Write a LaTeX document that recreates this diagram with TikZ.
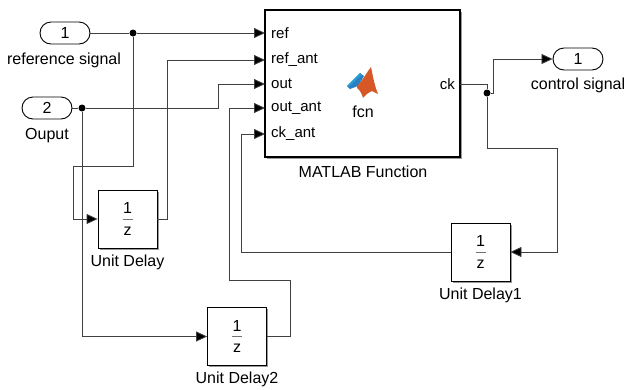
\documentclass[tikz,border=0pt]{standalone}
\usepackage{fontspec}
\setmainfont{Liberation Sans}
\usetikzlibrary{arrows.meta,shadows}
\definecolor{mlorange}{RGB}{214,88,38}
\definecolor{mlblue}{RGB}{40,128,196}
\tikzset{
 wire/.style={draw=black!75, line width=0.8pt},
 sig/.style={wire, -{Triangle[length=11pt,width=10pt,fill=black]}},
 port/.style={draw=black, line width=0.9pt, fill=white, rounded corners=11pt, minimum width=50pt, minimum height=22pt, inner sep=0pt, font=\fontsize{16}{18}\selectfont},
 blk/.style={draw=black, line width=0.8pt, fill=white, drop shadow={shadow xshift=1.6pt, shadow yshift=-1.6pt, fill=black!40, opacity=1}, inner sep=0pt},
 lbl/.style={font=\fontsize{16}{18}\selectfont, inner sep=0pt},
 plbl/.style={font=\fontsize{15}{17}\selectfont, inner sep=0pt},
 junc/.style={circle, fill=black, inner sep=0pt, minimum size=7pt},
}
\newcommand\unitdelay[4]{%
 \node[blk, minimum width=59pt, minimum height=58pt] (#1) at (#2,#3) {};
 \node[lbl] (#1one) at (#2,{#3-11}) {1};
 \coordinate (#1bl) at ({#2-5},#3);
 \coordinate (#1br) at ({#2+5},#3);
 \draw[black!55, line width=0.7pt] (#1bl) -- (#1br);
 \node[lbl] (#1z) at (#2,{#3+12}) {z};
 \node[lbl] (#1lab) at (#2,{#3+43}) {#4};
}
\begin{document}
\begin{tikzpicture}[x=1pt,y=-1pt]
\useasboundingbox[fill=white] (0,0) rectangle (625,389);

% MATLAB Function block
\node[blk, line width=2pt, minimum width=195pt, minimum height=147pt] (mf) at (362.5,83.5) {};
\node[plbl, anchor=west] (lref) at (271,33) {ref};
\node[plbl, anchor=west] (lrefant) at (271,60) {ref\_ant};
\node[plbl, anchor=west] (lout) at (271,84) {out};
\node[plbl, anchor=west] (loutant) at (271,108) {out\_ant};
\node[plbl, anchor=west] (lckant) at (271,134) {ck\_ant};
\node[plbl, anchor=east] (lck) at (455,84) {ck};
\node[lbl] (fcn) at (363,112) {fcn};
\node[lbl] (mflab) at (363,172) {MATLAB Function};
% logo
\fill[mlblue] (347,86) -- (360,73) -- (364,76) -- (358,86) -- (350,89) -- cycle;
\fill[cyan!60!mlblue] (347,86) -- (360,73) -- (362,74.5) -- (349,86.5) -- cycle;
\fill[mlorange] (357,86) .. controls (363,80) and (367,72) .. (371,67)
  .. controls (373,77) and (375,87) .. (378,94)
  -- (372,91) .. controls (368,93) and (365,95) .. (363,98)
  .. controls (362,94) and (360,90) .. (357,88) -- cycle;

\coordinate (pref) at (265,33);
\coordinate (prefant) at (265,60);
\coordinate (pout) at (265,84);
\coordinate (poutant) at (265,108);
\coordinate (pckant) at (265,134);
\coordinate (pck) at (460,84);

% ports
\node[port] (in1) at (65,33) {1};
\node[lbl] (in1lab) at (64,60) {reference signal};
\node[port] (in2) at (47,108) {2};
\node[lbl] (in2lab) at (47,136) {Ouput};
\node[port] (out1) at (578,59) {1};
\node[lbl] (out1lab) at (578,85) {control signal};

% delays
\unitdelay{ud}{127.5}{219}{Unit Delay}
\unitdelay{udtwo}{237}{336.5}{Unit Delay2}
\unitdelay{udone}{480.5}{252}{Unit Delay1}

% junctions
\node[junc] (j1) at (133,33) {};
\node[junc] (j2) at (82,108) {};
\node[junc] (j3) at (487,93) {};

% wires
\draw[wire] (in1.east) -- (j1);
\draw[sig] (j1) -- (pref);
\draw[sig] (j1) |- (73,166) |- (ud.west);
\draw[sig] (ud.east) -- (167,219) |- (prefant);
\draw[wire] (in2.east) -- (j2);
\draw[sig] (j2) -- (218,108) |- (pout);
\draw[sig] (j2) |- (udtwo.west);
\draw[sig] (udtwo.east) -- (290,336.5) |- (229,280) |- (poutant);
\draw[wire] (pck) -| (j3);
\draw[sig] (j3) -- (493,93) |- (out1.west);
\draw[sig] (j3) |- (557,148) |- (udone.east);
\draw[sig] (udone.west) -- (241,252) |- (pckant);
\end{tikzpicture}
\end{document}
